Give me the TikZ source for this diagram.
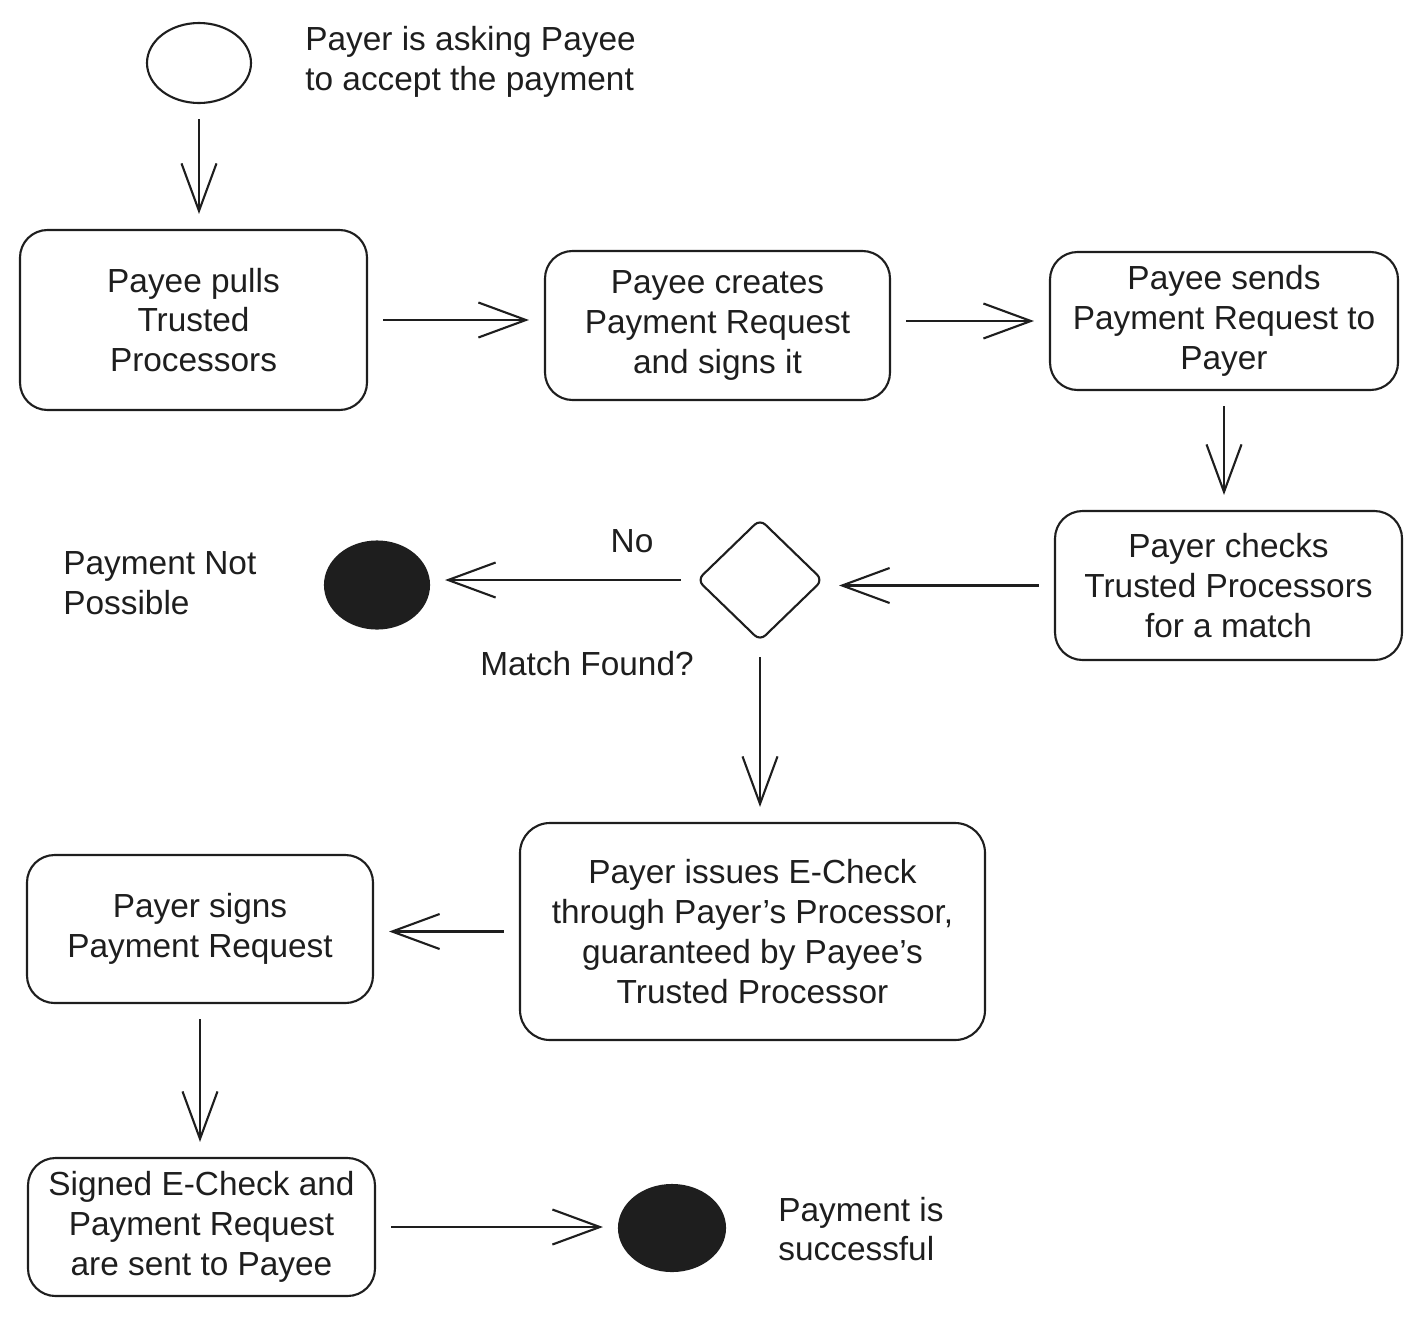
\documentclass[tikz,border=0pt]{standalone}
\usepackage{fontspec}
\setmainfont{Liberation Sans}
\usetikzlibrary{arrows.meta, shapes.geometric}
\definecolor{inkcolor}{HTML}{1E1E1E}
\tikzset{
  textfont/.style={font=\fontsize{19}{22.7}\selectfont, text=inkcolor},
  stepbox/.style={draw=inkcolor, line width=1.2pt, rounded corners=0.55cm, align=center, inner sep=0pt, textfont},
  flow/.style={draw=inkcolor, line width=1.2pt, shorten <=0.3cm, shorten >=0.3cm,
    -{Straight Barb[length=0.95cm, width=0.7cm, line width=1.2pt]}},
  startnode/.style={ellipse, draw=inkcolor, line width=1.2pt, minimum width=2.08cm, minimum height=1.6cm},
  endnode/.style={ellipse, draw=inkcolor, fill=inkcolor, line width=1.2pt, minimum width=2.08cm, minimum height=1.74cm},
  decision/.style={diamond, draw=inkcolor, line width=1.2pt, rounded corners=0.15cm, minimum width=2.52cm, minimum height=2.44cm, inner sep=0pt},
  note/.style={textfont, align=left, anchor=west, inner sep=0pt}
}
\begin{document}
\begin{tikzpicture}
    \useasboundingbox (0,0) rectangle (28.44,-26.32);

    % Start of the flow
    \node[startnode] (start) at (3.98,-1.26) {};
    \node[note] (starttext) at (6.1,-1.24) {Payer is asking Payee\\to accept the payment};

    % Steps
    \node[stepbox, minimum width=6.94cm, minimum height=3.6cm] (pull) at (3.87,-6.4) {Payee pulls\\Trusted\\Processors};
    \node[stepbox, minimum width=6.9cm, minimum height=2.98cm] (create) at (14.35,-6.51) {Payee creates\\Payment Request\\and signs it};
    \node[stepbox, minimum width=6.96cm, minimum height=2.76cm] (send) at (24.48,-6.42) {Payee sends\\Payment Request to\\Payer};
    \node[stepbox, minimum width=6.94cm, minimum height=2.98cm] (check) at (24.57,-11.71) {Payer checks\\Trusted Processors\\for a match};

    % Decision
    \node[decision] (match) at (15.2,-11.6) {};
    \node[textfont] (matchtext) at (11.74,-13.28) {Match Found?};
    \node[textfont] (notext) at (12.64,-10.82) {No};

    % Dead end
    \node[endnode] (fail) at (7.54,-11.7) {};
    \node[note] (failtext) at (1.26,-11.66) {Payment Not\\Possible};

    % Match found branch
    \node[stepbox, minimum width=9.3cm, minimum height=4.34cm, rounded corners=0.6cm] (issue) at (15.05,-18.63) {Payer issues E-Check\\through Payer's Processor,\\guaranteed by Payee's\\Trusted Processor};
    \node[stepbox, minimum width=6.92cm, minimum height=2.96cm] (sign) at (4,-18.58) {Payer signs\\Payment Request};
    \node[stepbox, minimum width=6.94cm, minimum height=2.76cm] (sent) at (4.03,-24.54) {Signed E-Check and\\Payment Request\\are sent to Payee};

    % End of the flow
    \node[endnode, minimum height=1.72cm, minimum width=2.12cm] (done) at (13.44,-24.56) {};
    \node[note] (donetext) at (15.56,-24.58) {Payment is\\successful};

    % Draw connectors
    \draw[flow] (start) -- (start |- pull.north);
    \draw[flow] (pull) -- (pull -| create.west);
    \draw[flow] (send -| create.east) -- (send);
    \draw[flow] (send) -- (send |- check.north);
    \draw[flow] (check) -- (check -| match.east);
    \draw[flow] (match) -- (match -| fail.east);
    \draw[flow] (match) -- (match |- issue.north);
    \draw[flow] (issue) -- (issue -| sign.east);
    \draw[flow] (sign) -- (sign |- sent.north);
    \draw[flow] (sent) -- (sent -| done.west);
\end{tikzpicture}
\end{document}
